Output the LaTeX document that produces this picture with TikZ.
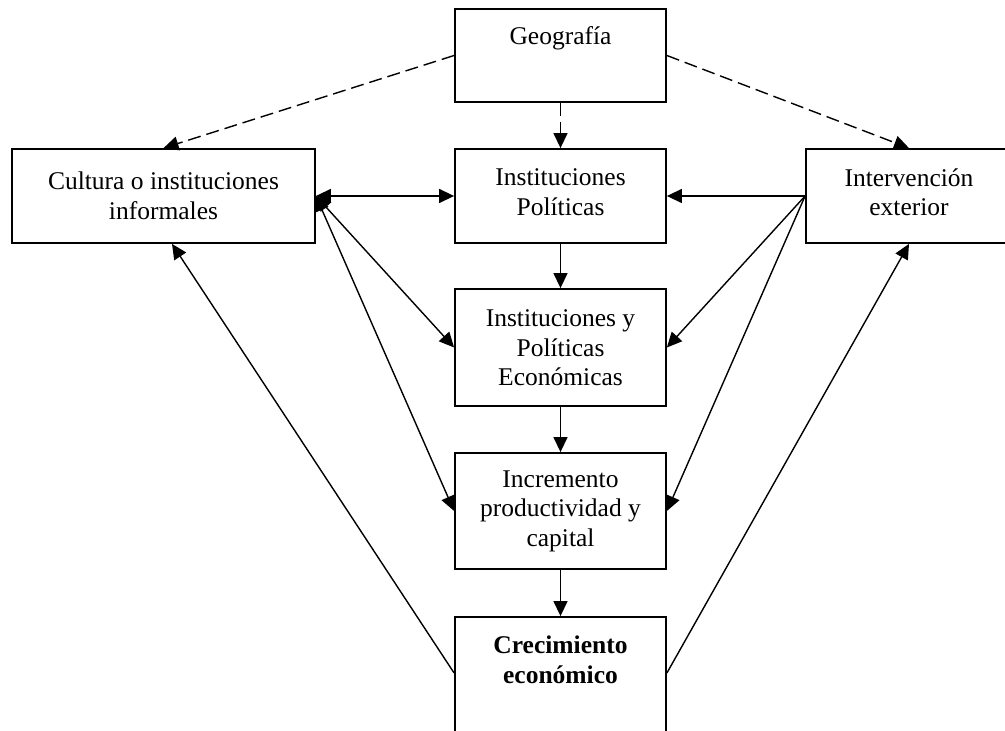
\documentclass[tikz,border=0pt]{standalone}
\usepackage{fontspec}
\setmainfont{Liberation Serif}
\usetikzlibrary{arrows.meta}
\begin{document}
\begin{tikzpicture}[x=1pt,y=1pt,
  box/.style={draw, line width=1.8pt, inner sep=0pt, rectangle},
  txt/.style={align=center, inner sep=0pt, font=\fontsize{25.5}{29.5}\selectfont},
  arr/.style={line width=1.4pt, -{Triangle[length=15pt,width=14pt]}},
  dbl/.style={line width=1.4pt, {Triangle[length=15pt,width=14pt]}-{Triangle[length=15pt,width=14pt]}},
  dsh/.style={arr, dash pattern=on 13pt off 6pt}]
\useasboundingbox (0,0) rectangle (1005,731);
\clip (0,0) rectangle (1005,731);
% boxes
\node[box, minimum width=211pt, minimum height=93pt] (geo) at (560.5,675.5) {};
\node[box, minimum width=303pt, minimum height=94pt] (cult) at (163.5,535) {};
\node[box, minimum width=211pt, minimum height=94pt] (ipol) at (560.5,535) {};
\node[box, minimum width=206pt, minimum height=94pt] (interv) at (909,535) {};
\node[box, minimum width=211pt, minimum height=117pt] (iecon) at (560.5,383.5) {};
\node[box, minimum width=211pt, minimum height=116pt] (incr) at (560.5,220) {};
\node[box, minimum width=211pt, minimum height=128pt] (crec) at (560.5,50) {};
% texts
\node[txt, anchor=base] (geot) at (560.5,686) {Geografía};
\node[txt] (cultt) at (163.5,535) {Cultura o instituciones\\informales};
\node[txt] (ipolt) at (560.5,539) {Instituciones\\Políticas};
\node[txt] (intervt) at (909,538.5) {Intervención\\exterior};
\node[txt] (iecont) at (560.5,383) {Instituciones y\\Políticas\\Económicas};
\node[txt] (incrt) at (560.5,220) {Incremento\\productividad y\\capital};
\node[txt, font=\fontsize{25.5}{29.5}\selectfont\bfseries] (crect) at (560.5,71) {Crecimiento\\económico};
% connectors
\draw[dsh] (geo.west) -- (cult.north);
\draw[dsh] (geo.east) -- (interv.north);
\draw[dsh] (geo.south) -- (ipol.north);
\draw[dbl] (cult.east) -- (ipol.west);
\draw[dbl] (cult.east) -- (iecon.west);
\draw[dbl] (cult.east) -- (incr.west);
\draw[arr] (interv.west) -- (ipol.east);
\draw[arr] (interv.west) -- (iecon.east);
\draw[arr] (interv.west) -- (incr.east);
\draw[arr] (ipol.south) -- (iecon.north);
\draw[arr] (iecon.south) -- (incr.north);
\draw[arr] (incr.south) -- (crec.north);
\draw[arr] ([yshift=8pt]crec.west) -- ([xshift=8.5pt]cult.south);
\draw[arr] ([yshift=8pt]crec.east) -- (interv.south);
\end{tikzpicture}
\end{document}
